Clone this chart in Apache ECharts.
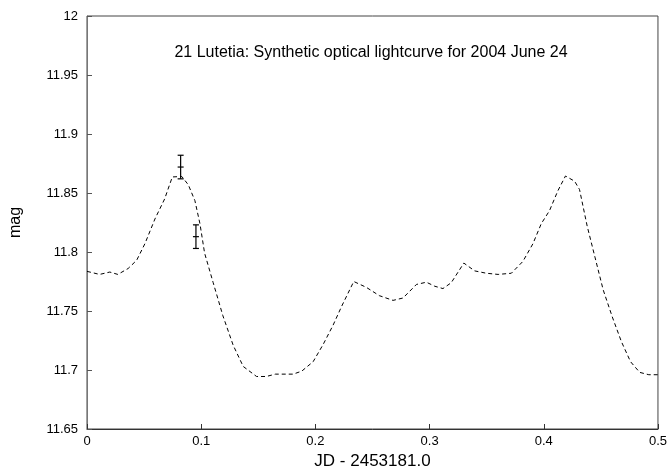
<!DOCTYPE html>
<html>
<head>
<meta charset="utf-8">
<script src="https://cdn.jsdelivr.net/npm/echarts@6/dist/echarts.min.js"></script>
<style>
  html, body { margin: 0; padding: 0; background: #fff; }
  #chart { width: 670px; height: 475px; }
</style>
</head>
<body>
<div id="chart"></div>
<script>
// synthetic lightcurve
var curveJd = [0, 0.011, 0.020, 0.027, 0.036, 0.0435, 0.0507, 0.0595, 0.068, 0.0747,
  0.083, 0.0887, 0.0945, 0.0989, 0.103, 0.1105, 0.119, 0.128, 0.1368, 0.1485,
  0.157, 0.165, 0.1805, 0.188, 0.198, 0.207, 0.2155, 0.223, 0.2336, 0.2447,
  0.256, 0.268, 0.2767, 0.2885, 0.2972, 0.3045, 0.3117, 0.319, 0.33, 0.3395,
  0.3497, 0.36, 0.3716, 0.3817, 0.3905, 0.3978, 0.405, 0.4124, 0.419, 0.427,
  0.4313, 0.438, 0.445, 0.452, 0.46, 0.468, 0.476, 0.484, 0.492, 0.5];
var curveMag = [11.7836, 11.781, 11.783, 11.781, 11.786, 11.793, 11.807, 11.828, 11.845, 11.8636,
  11.864, 11.857, 11.8435, 11.824, 11.799, 11.774, 11.746, 11.721, 11.703, 11.6945,
  11.6945, 11.6965, 11.6965, 11.699, 11.707, 11.722, 11.738, 11.754, 11.775, 11.770,
  11.763, 11.759, 11.761, 11.7725, 11.7744, 11.771, 11.769, 11.774, 11.7906, 11.784,
  11.782, 11.781, 11.782, 11.792, 11.807, 11.824, 11.835, 11.852, 11.8644, 11.860,
  11.853, 11.822, 11.795, 11.768, 11.745, 11.724, 11.707, 11.698, 11.696, 11.696];

// observed points with error bars
var obsJd = [0.082, 0.0954];
var obsMag = [11.872, 11.813];
var obsErr = [0.010, 0.010];

var xTicks = [0, 0.1, 0.2, 0.3, 0.4, 0.5];
var yTicks = [11.65, 11.7, 11.75, 11.8, 11.85, 11.9, 11.95, 12];

var curve = [];
for (var i = 0; i < curveJd.length; i++) {
  curve.push([curveJd[i], curveMag[i]]);
}
var obs = [];
for (var j = 0; j < obsJd.length; j++) {
  obs.push([obsJd[j], obsMag[j], obsMag[j] - obsErr[j], obsMag[j] + obsErr[j]]);
}

var font = 'Liberation Sans, Arial, Helvetica, sans-serif';
var chart = echarts.init(document.getElementById('chart'));
chart.setOption({
  animation: false,
  grid: {
    show: true,
    left: 87,
    right: 12,
    top: 16,
    bottom: 40,
    borderColor: '#444',
    borderWidth: 1
  },
  title: {
    text: '21 Lutetia: Synthetic optical lightcurve for 2004 June 24',
    left: 366,
    top: 40,
    textAlign: 'center',
    textStyle: { fontFamily: font, fontSize: 16, fontWeight: 'normal', color: '#000' }
  },
  xAxis: {
    type: 'value',
    min: 0,
    max: 0.5,
    interval: 0.1,
    name: 'JD - 2453181.0',
    nameLocation: 'middle',
    nameGap: 24,
    nameTextStyle: { fontFamily: font, fontSize: 17, color: '#000' },
    axisLine: { lineStyle: { color: '#333', width: 1 } },
    axisTick: { inside: true, length: 5, lineStyle: { color: '#333' } },
    axisLabel: {
      fontFamily: font, fontSize: 13, color: '#000', margin: 6,
      formatter: function (v) { var r = Math.round(v * 10) / 10; return xTicks.indexOf(r) > -1 ? String(r) : ''; }
    },
    splitLine: { show: false }
  },
  yAxis: {
    type: 'value',
    min: 11.65,
    max: 12,
    interval: 0.05,
    name: 'mag',
    nameLocation: 'middle',
    nameGap: 63,
    nameTextStyle: { fontFamily: font, fontSize: 16, color: '#000' },
    axisLine: { show: true, lineStyle: { color: '#777', width: 1 } },
    axisTick: { show: true, inside: true, length: 5, lineStyle: { color: '#555' } },
    axisLabel: {
      fontFamily: font, fontSize: 13, color: '#000', margin: 9,
      formatter: function (v) { var r = Math.round(v * 100) / 100; return yTicks.indexOf(r) > -1 ? String(r) : ''; }
    },
    splitLine: { show: false }
  },
  series: [{
    type: 'line',
    data: curve,
    showSymbol: false,
    smooth: false,
    lineStyle: { color: '#000', width: 1, type: [4, 3] },
    z: 2
  }, {
    type: 'custom',
    data: obs,
    renderItem: function (params, api) {
      var c = api.coord([api.value(0), api.value(1)]);
      var lo = api.coord([api.value(0), api.value(2)]);
      var hi = api.coord([api.value(0), api.value(3)]);
      var w = 3;
      var st = { stroke: '#000', lineWidth: 1.2 };
      return {
        type: 'group',
        children: [
          { type: 'line', shape: { x1: c[0], y1: lo[1], x2: c[0], y2: hi[1] }, style: st },
          { type: 'line', shape: { x1: c[0] - w, y1: lo[1], x2: c[0] + w, y2: lo[1] }, style: st },
          { type: 'line', shape: { x1: c[0] - w, y1: hi[1], x2: c[0] + w, y2: hi[1] }, style: st },
          { type: 'line', shape: { x1: c[0] - w, y1: c[1], x2: c[0] + w, y2: c[1] }, style: st }
        ]
      };
    },
    z: 3
  }]
});
</script>
</body>
</html>
